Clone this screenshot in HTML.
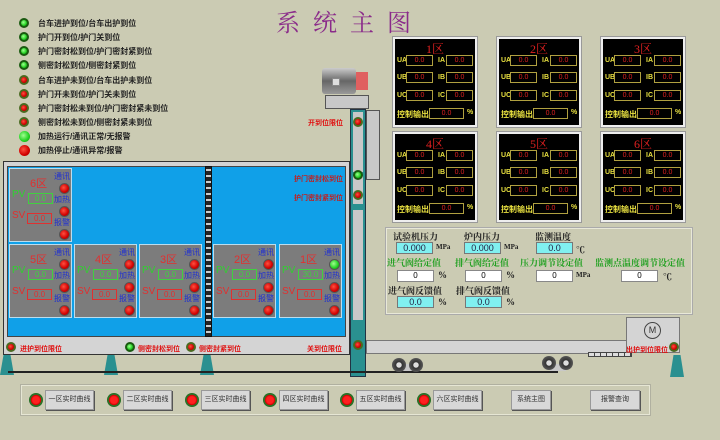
<!DOCTYPE html>
<html><head><meta charset="utf-8"><style>
*{margin:0;padding:0;box-sizing:border-box}
body{width:720px;height:440px;background:#cbcbb3;position:relative;overflow:hidden;font-family:"Liberation Sans","Noto Sans CJK SC",sans-serif}
div,span{position:absolute;white-space:nowrap}
.t{font-size:8px;font-weight:bold;color:#222}
.led{width:10px;height:10px;border-radius:50%;background:radial-gradient(circle at 40% 40%,#ff5040,#d00000 60%,#900);border:2px solid #4a6a20}
.lg{background:radial-gradient(circle at 40% 40%,#a0ff90,#20d020 60%,#108010);border-color:#1a5a10}
.panel{width:84px;height:90px;background:#000;border:2px solid #eee;outline:1px solid #999}
.panel .h{left:0;width:80px;top:1px;text-align:center;color:#e02020;font-size:12px;font-family:"Liberation Serif","Noto Serif CJK SC",serif}
.panel .l{color:#e8e040;font-size:7px;font-weight:bold}
.panel .b{width:27px;height:11px;border:1px solid #b0a040;color:#e02020;font-size:7px;text-align:center;line-height:9px}
.zone{width:63px;height:74px;background:#7c7c7c;border:1px solid #bde}
.zone .h{left:20px;top:6px;color:#e03030;font-size:11px}
.zone .c{left:44px;color:#2030d0;font-size:8px}
.zone .pl{left:2px;top:20px;color:#30d030;font-size:10px}
.zone .sl{left:2px;top:41px;color:#e03030;font-size:10px}
.zone .pb{left:18px;top:24px;width:25px;height:11px;border:1px solid #40d040;color:#40d040;font-size:8px;text-align:center;line-height:9px}
.zone .sb{left:17px;top:44px;width:25px;height:11px;border:1px solid #e03030;color:#e03030;font-size:8px;text-align:center;line-height:9px}
.zone .led{left:49px;width:11px;height:11px;border:1px solid #555}
.rl{color:#e01010;font-size:7px;font-weight:bold}
.cy{background:#80f0f0;border:1px solid #777;font-size:9px;text-align:center;color:#224;height:12px;line-height:10px}
.wh{background:#fff;border:1px solid #888;font-size:8px;text-align:center;height:12px;line-height:10px}
.pt{font-size:9px;font-weight:bold;color:#222;font-family:"Liberation Serif","Noto Serif CJK SC",serif}
.gt{color:#20a020}
.btn{height:20px;background:#d8d8d8;border:1px solid #999;box-shadow:1px 1px 0 #555;font-size:7px;color:#333;text-align:center;line-height:18px}
.bl{width:14px;height:14px;border-radius:50%;background:radial-gradient(circle,#ff2020 35%,#c00 50%,#2a7a2a 55%,#1a4a1a);}
.leg{width:14px;height:20px;background:#2a9090;clip-path:polygon(25% 0,75% 0,100% 100%,0 100%)}
.wheel{width:14px;height:14px;border-radius:50%;background:radial-gradient(circle,#ddd 25%,#333 30%,#555 70%,#222)}
</style></head><body>
<div style="left:276px;top:3px;font-size:24px;color:#8a2a8a;letter-spacing:13px;font-family:'Liberation Serif','Noto Serif CJK SC',serif">系统主图</div>

<div class="led lg" style="left:19px;top:18px"></div><div class="t" style="left:38px;top:18px">台车进护到位/台车出护到位</div>
<div class="led lg" style="left:19px;top:32px"></div><div class="t" style="left:38px;top:32px">护门开到位/护门关到位</div>
<div class="led lg" style="left:19px;top:46px"></div><div class="t" style="left:38px;top:46px">护门密封松到位/护门密封紧到位</div>
<div class="led lg" style="left:19px;top:60px"></div><div class="t" style="left:38px;top:60px">侧密封松到位/侧密封紧到位</div>
<div class="led" style="left:19px;top:75px"></div><div class="t" style="left:38px;top:75px">台车进护未到位/台车出护未到位</div>
<div class="led" style="left:19px;top:89px"></div><div class="t" style="left:38px;top:89px">护门开未到位/护门关未到位</div>
<div class="led" style="left:19px;top:103px"></div><div class="t" style="left:38px;top:103px">护门密封松未到位/护门密封紧未到位</div>
<div class="led" style="left:19px;top:117px"></div><div class="t" style="left:38px;top:117px">侧密封松未到位/侧密封紧未到位</div>
<div class="led lg" style="left:19px;top:131px;border:none;width:11px;height:11px"></div><div class="t" style="left:38px;top:131px">加热运行/通讯正常/无报警</div>
<div class="led" style="left:19px;top:145px;border:none;width:11px;height:11px"></div><div class="t" style="left:38px;top:145px">加热停止/通讯异常/报警</div>

<div style="left:322px;top:68px;width:34px;height:26px;background:linear-gradient(#ccc,#666 50%,#999);border-radius:3px"></div>
<div style="left:332px;top:78px;width:8px;height:8px;background:#ddd;border:1px solid #888"></div>
<div style="left:356px;top:72px;width:12px;height:18px;background:#e06060"></div>
<div style="left:325px;top:95px;width:44px;height:14px;background:#c8c8c8;border:1px solid #555"></div>
<div style="left:366px;top:110px;width:14px;height:70px;background:#c8c8c8;border:1px solid #555"></div>
<div class="rl" style="left:308px;top:118px">开到位限位</div>

<div style="left:350px;top:109px;width:16px;height:268px;background:#2a9090;border:1px solid #234"></div>
<div style="left:353px;top:112px;width:10px;height:60px;background:#c8c8c8"></div>
<div style="left:353px;top:176px;width:10px;height:28px;background:#c8c8c8"></div>
<div style="left:353px;top:210px;width:10px;height:110px;background:#c8c8c8"></div>
<div class="led" style="left:353px;top:117px"></div>
<div class="led lg" style="left:353px;top:170px"></div>
<div class="led" style="left:353px;top:190px"></div>
<div class="led" style="left:353px;top:340px"></div>

<div style="left:3px;top:161px;width:347px;height:194px;background:#d4d4d4;border:1px solid #333"></div>
<div style="left:7px;top:166px;width:339px;height:171px;background:#10a0e8;border:1px solid #444"></div>
<div style="left:205px;top:166px;width:7px;height:171px;background:repeating-linear-gradient(#222 0 2px,#ccc 2px 4px,#222 4px 6px);border:1px solid #111"></div>
<div class="rl" style="left:294px;top:174px;color:#c02020">护门密封松到位</div>
<div class="rl" style="left:294px;top:193px;color:#c02020">护门密封紧到位</div>

<div class="zone" style="left:9px;top:168px"><span class="h">6区</span><span class="c" style="top:2px">通讯</span><div class="led" style="top:14px"></div><span class="pl">PV</span><div class="pb">0.0</div><span class="c" style="top:25px">加热</span><div class="led" style="top:37px"></div><span class="sl">SV</span><div class="sb">0.0</div><span class="c" style="top:48px">报警</span><div class="led" style="top:60px"></div></div>
<div class="zone" style="left:9px;top:244px"><span class="h">5区</span><span class="c" style="top:2px">通讯</span><div class="led" style="top:14px"></div><span class="pl">PV</span><div class="pb">0.0</div><span class="c" style="top:25px">加热</span><div class="led" style="top:37px"></div><span class="sl">SV</span><div class="sb">0.0</div><span class="c" style="top:48px">报警</span><div class="led" style="top:60px"></div></div>
<div class="zone" style="left:74px;top:244px"><span class="h">4区</span><span class="c" style="top:2px">通讯</span><div class="led" style="top:14px"></div><span class="pl">PV</span><div class="pb">0.0</div><span class="c" style="top:25px">加热</span><div class="led" style="top:37px"></div><span class="sl">SV</span><div class="sb">0.0</div><span class="c" style="top:48px">报警</span><div class="led" style="top:60px"></div></div>
<div class="zone" style="left:139px;top:244px"><span class="h">3区</span><span class="c" style="top:2px">通讯</span><div class="led" style="top:14px"></div><span class="pl">PV</span><div class="pb">0.0</div><span class="c" style="top:25px">加热</span><div class="led" style="top:37px"></div><span class="sl">SV</span><div class="sb">0.0</div><span class="c" style="top:48px">报警</span><div class="led" style="top:60px"></div></div>
<div class="zone" style="left:213px;top:244px"><span class="h">2区</span><span class="c" style="top:2px">通讯</span><div class="led" style="top:14px"></div><span class="pl">PV</span><div class="pb">0.0</div><span class="c" style="top:25px">加热</span><div class="led" style="top:37px"></div><span class="sl">SV</span><div class="sb">0.0</div><span class="c" style="top:48px">报警</span><div class="led" style="top:60px"></div></div>
<div class="zone" style="left:279px;top:244px"><span class="h">1区</span><span class="c" style="top:2px">通讯</span><div class="led lg" style="top:14px"></div><span class="pl">PV</span><div class="pb">30.0</div><span class="c" style="top:25px">加热</span><div class="led" style="top:37px"></div><span class="sl">SV</span><div class="sb">0.0</div><span class="c" style="top:48px">报警</span><div class="led" style="top:60px"></div></div>

<div class="led" style="left:6px;top:342px"></div><div class="rl" style="left:20px;top:344px">进护到位限位</div>
<div class="led lg" style="left:125px;top:342px"></div><div class="rl" style="left:138px;top:344px">侧密封松到位</div>
<div class="led" style="left:186px;top:342px"></div><div class="rl" style="left:199px;top:344px">侧密封紧到位</div>
<div class="rl" style="left:307px;top:344px">关到位限位</div>

<div class="leg" style="left:0;top:355px"></div>
<div class="leg" style="left:104px;top:355px"></div>
<div class="leg" style="left:200px;top:355px"></div>
<div style="left:8px;top:371px;width:550px;height:2px;background:#222"></div>

<div style="left:366px;top:340px;width:262px;height:14px;background:#d4d4d4;border:1px solid #777"></div>
<div style="left:399px;top:364px;width:16px;height:7px;background:#c8c8c8"></div>
<div class="wheel" style="left:392px;top:358px"></div>
<div class="wheel" style="left:409px;top:358px"></div>
<div style="left:550px;top:364px;width:16px;height:7px;background:#c8c8c8"></div>
<div class="wheel" style="left:542px;top:356px"></div>
<div class="wheel" style="left:559px;top:356px"></div>
<div style="left:588px;top:352px;width:44px;height:5px;border:1px solid #444;background:repeating-linear-gradient(90deg,#ddd 0 5px,#444 5px 6px)"></div>
<div style="left:626px;top:317px;width:54px;height:36px;background:#d4d4d4;border:1px solid #777"></div>
<div style="left:644px;top:322px;width:17px;height:17px;border-radius:50%;border:1px solid #444;font-size:9px;text-align:center;line-height:15px;color:#333">M</div>
<div class="rl" style="left:626px;top:345px">出护到位限位</div>
<div class="led" style="left:669px;top:342px"></div>
<div class="leg" style="left:670px;top:355px;height:22px"></div>

<div class="panel" style="left:393px;top:37px"><span class="h">1区</span><span class="l" style="left:2px;top:18px">UA</span><div class="b" style="left:11px;top:16px">0.0</div><span class="l" style="left:43px;top:18px">IA</span><div class="b" style="left:51px;top:16px">0.0</div><span class="l" style="left:2px;top:35px">UB</span><div class="b" style="left:11px;top:33px">0.0</div><span class="l" style="left:43px;top:35px">IB</span><div class="b" style="left:51px;top:33px">0.0</div><span class="l" style="left:2px;top:53px">UC</span><div class="b" style="left:11px;top:51px">0.0</div><span class="l" style="left:43px;top:53px">IC</span><div class="b" style="left:51px;top:51px">0.0</div><span class="l" style="left:2px;top:70px;font-size:8px">控制输出</span><div class="b" style="left:34px;top:69px;width:35px">0.0</div><span class="l" style="left:72px;top:70px">%</span></div>
<div class="panel" style="left:497px;top:37px"><span class="h">2区</span><span class="l" style="left:2px;top:18px">UA</span><div class="b" style="left:11px;top:16px">0.0</div><span class="l" style="left:43px;top:18px">IA</span><div class="b" style="left:51px;top:16px">0.0</div><span class="l" style="left:2px;top:35px">UB</span><div class="b" style="left:11px;top:33px">0.0</div><span class="l" style="left:43px;top:35px">IB</span><div class="b" style="left:51px;top:33px">0.0</div><span class="l" style="left:2px;top:53px">UC</span><div class="b" style="left:11px;top:51px">0.0</div><span class="l" style="left:43px;top:53px">IC</span><div class="b" style="left:51px;top:51px">0.0</div><span class="l" style="left:2px;top:70px;font-size:8px">控制输出</span><div class="b" style="left:34px;top:69px;width:35px">0.0</div><span class="l" style="left:72px;top:70px">%</span></div>
<div class="panel" style="left:601px;top:37px"><span class="h">3区</span><span class="l" style="left:2px;top:18px">UA</span><div class="b" style="left:11px;top:16px">0.0</div><span class="l" style="left:43px;top:18px">IA</span><div class="b" style="left:51px;top:16px">0.0</div><span class="l" style="left:2px;top:35px">UB</span><div class="b" style="left:11px;top:33px">0.0</div><span class="l" style="left:43px;top:35px">IB</span><div class="b" style="left:51px;top:33px">0.0</div><span class="l" style="left:2px;top:53px">UC</span><div class="b" style="left:11px;top:51px">0.0</div><span class="l" style="left:43px;top:53px">IC</span><div class="b" style="left:51px;top:51px">0.0</div><span class="l" style="left:2px;top:70px;font-size:8px">控制输出</span><div class="b" style="left:34px;top:69px;width:35px">0.0</div><span class="l" style="left:72px;top:70px">%</span></div>
<div class="panel" style="left:393px;top:132px"><span class="h">4区</span><span class="l" style="left:2px;top:18px">UA</span><div class="b" style="left:11px;top:16px">0.0</div><span class="l" style="left:43px;top:18px">IA</span><div class="b" style="left:51px;top:16px">0.0</div><span class="l" style="left:2px;top:35px">UB</span><div class="b" style="left:11px;top:33px">0.0</div><span class="l" style="left:43px;top:35px">IB</span><div class="b" style="left:51px;top:33px">0.0</div><span class="l" style="left:2px;top:53px">UC</span><div class="b" style="left:11px;top:51px">0.0</div><span class="l" style="left:43px;top:53px">IC</span><div class="b" style="left:51px;top:51px">0.0</div><span class="l" style="left:2px;top:70px;font-size:8px">控制输出</span><div class="b" style="left:34px;top:69px;width:35px">0.0</div><span class="l" style="left:72px;top:70px">%</span></div>
<div class="panel" style="left:497px;top:132px"><span class="h">5区</span><span class="l" style="left:2px;top:18px">UA</span><div class="b" style="left:11px;top:16px">0.0</div><span class="l" style="left:43px;top:18px">IA</span><div class="b" style="left:51px;top:16px">0.0</div><span class="l" style="left:2px;top:35px">UB</span><div class="b" style="left:11px;top:33px">0.0</div><span class="l" style="left:43px;top:35px">IB</span><div class="b" style="left:51px;top:33px">0.0</div><span class="l" style="left:2px;top:53px">UC</span><div class="b" style="left:11px;top:51px">0.0</div><span class="l" style="left:43px;top:53px">IC</span><div class="b" style="left:51px;top:51px">0.0</div><span class="l" style="left:2px;top:70px;font-size:8px">控制输出</span><div class="b" style="left:34px;top:69px;width:35px">0.0</div><span class="l" style="left:72px;top:70px">%</span></div>
<div class="panel" style="left:601px;top:132px"><span class="h">6区</span><span class="l" style="left:2px;top:18px">UA</span><div class="b" style="left:11px;top:16px">0.0</div><span class="l" style="left:43px;top:18px">IA</span><div class="b" style="left:51px;top:16px">0.0</div><span class="l" style="left:2px;top:35px">UB</span><div class="b" style="left:11px;top:33px">0.0</div><span class="l" style="left:43px;top:35px">IB</span><div class="b" style="left:51px;top:33px">0.0</div><span class="l" style="left:2px;top:53px">UC</span><div class="b" style="left:11px;top:51px">0.0</div><span class="l" style="left:43px;top:53px">IC</span><div class="b" style="left:51px;top:51px">0.0</div><span class="l" style="left:2px;top:70px;font-size:8px">控制输出</span><div class="b" style="left:34px;top:69px;width:35px">0.0</div><span class="l" style="left:72px;top:70px">%</span></div>

<div style="left:386px;top:228px;width:306px;height:86px;border:1px solid #e8e8d8;outline:1px solid #aaa"></div>
<div class="pt" style="left:393px;top:230px">试验机压力</div>
<div class="pt" style="left:464px;top:230px">炉内压力</div>
<div class="pt" style="left:535px;top:230px">监测温度</div>
<div class="cy" style="left:396px;top:242px;width:37px">0.000</div><div class="pt" style="left:436px;top:243px;font-size:7px">MPa</div>
<div class="cy" style="left:464px;top:242px;width:37px">0.000</div><div class="pt" style="left:504px;top:243px;font-size:7px">MPa</div>
<div class="cy" style="left:536px;top:242px;width:37px">0.0</div><div class="pt" style="left:576px;top:243px">℃</div>
<div class="pt gt" style="left:387px;top:256px">进气阀给定值</div>
<div class="pt gt" style="left:455px;top:256px">排气阀给定值</div>
<div class="pt gt" style="left:520px;top:256px">压力调节设定值</div>
<div class="pt gt" style="left:595px;top:256px">监测点温度调节设定值</div>
<div class="wh" style="left:397px;top:270px;width:37px">0</div><div class="pt" style="left:438px;top:270px">%</div>
<div class="wh" style="left:465px;top:270px;width:37px">0</div><div class="pt" style="left:506px;top:270px">%</div>
<div class="wh" style="left:536px;top:270px;width:37px">0</div><div class="pt" style="left:576px;top:271px;font-size:7px">MPa</div>
<div class="wh" style="left:621px;top:270px;width:37px">0</div><div class="pt" style="left:663px;top:270px">℃</div>
<div class="pt" style="left:388px;top:284px">进气阀反馈值</div>
<div class="pt" style="left:456px;top:284px">排气阀反馈值</div>
<div class="cy" style="left:397px;top:296px;width:37px">0.0</div><div class="pt" style="left:438px;top:297px">%</div>
<div class="cy" style="left:465px;top:296px;width:37px">0.0</div><div class="pt" style="left:506px;top:297px">%</div>

<div style="left:21px;top:385px;width:629px;height:30px;border:1px solid #e6e6d4;outline:1px solid #b0b0a0"></div>
<div class="bl" style="left:29px;top:393px"></div><div class="btn" style="left:45px;top:390px;width:49px">一区实时曲线</div>
<div class="bl" style="left:107px;top:393px"></div><div class="btn" style="left:123px;top:390px;width:49px">二区实时曲线</div>
<div class="bl" style="left:185px;top:393px"></div><div class="btn" style="left:201px;top:390px;width:49px">三区实时曲线</div>
<div class="bl" style="left:263px;top:393px"></div><div class="btn" style="left:279px;top:390px;width:49px">四区实时曲线</div>
<div class="bl" style="left:340px;top:393px"></div><div class="btn" style="left:356px;top:390px;width:49px">五区实时曲线</div>
<div class="bl" style="left:417px;top:393px"></div><div class="btn" style="left:433px;top:390px;width:49px">六区实时曲线</div>
<div class="btn" style="left:511px;top:390px;width:40px">系统主图</div>
<div class="btn" style="left:590px;top:390px;width:50px">报警查询</div>
</body></html>
